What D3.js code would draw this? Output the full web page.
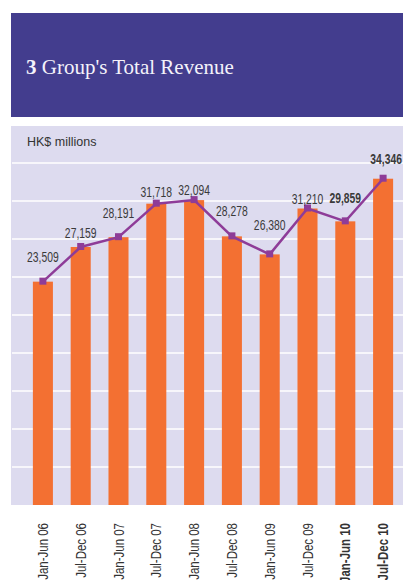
<!DOCTYPE html>
<html>
<head>
<meta charset="utf-8">
<script src="https://cdn.jsdelivr.net/npm/d3@7"></script>
<style>
  body { margin: 0; background: #fff; }
  svg { display: block; }
  .val { font-family: "Liberation Sans", Arial, sans-serif; font-size: 14px; fill: #3a3a3a; }
  .xlab { font-family: "Liberation Sans", Arial, sans-serif; font-size: 14px; fill: #333; }
</style>
</head>
<body>
<svg id="chart" width="403" height="580"></svg>
<script>
// half-year periods and revenue (HK$ millions)
var periods = ["Jan-Jun 06", "Jul-Dec 06", "Jan-Jun 07", "Jul-Dec 07", "Jan-Jun 08",
               "Jul-Dec 08", "Jan-Jun 09", "Jul-Dec 09", "Jan-Jun 10", "Jul-Dec 10"];
var revenue = [23509, 27159, 28191, 31718, 32094, 28278, 26380, 31210, 29859, 34346];
var boldPeriods = ["Jan-Jun 10", "Jul-Dec 10"];
var gridTicks = [4000, 8000, 12000, 16000, 20000, 24000, 28000, 32000, 36000];

var svg = d3.select("#chart");
var fmt = d3.format(",");
var squeeze = 0.74;   // fake a condensed face

// title box
svg.append("rect")
    .attr("x", 11).attr("y", 13)
    .attr("width", 392).attr("height", 104)
    .attr("fill", "#433d8e");

var title = svg.append("text")
    .attr("x", 26).attr("y", 74)
    .attr("fill", "#f4f2fa")
    .style("font-family", "'Liberation Serif', 'DejaVu Serif', serif")
    .style("font-size", "21px");
title.append("tspan").attr("font-weight", "bold").text("3");
title.append("tspan").text(" Group's Total Revenue");

// chart panel
svg.append("rect")
    .attr("x", 11).attr("y", 126)
    .attr("width", 392).attr("height", 379)
    .attr("fill", "#dddbef");

svg.append("text")
    .attr("x", 27).attr("y", 146)
    .attr("fill", "#333")
    .style("font-family", "'Liberation Sans', sans-serif")
    .style("font-size", "12.5px")
    .text("HK$ millions");

var x = d3.scaleBand()
    .domain(periods)
    .range([24, 402])
    .paddingInner(0.47)
    .paddingOuter(0.235);

var y = d3.scaleLinear()
    .domain([0, 36000])
    .range([505, 163]);

// gridlines
svg.append("g")
    .selectAll("line")
    .data(gridTicks)
    .enter().append("line")
    .attr("x1", 12).attr("x2", 403)
    .attr("y1", function (d) { return y(d); })
    .attr("y2", function (d) { return y(d); })
    .attr("stroke", "#fff")
    .attr("stroke-width", 1.5);

// bars
svg.append("g")
    .selectAll("rect")
    .data(revenue)
    .enter().append("rect")
    .attr("x", function (d, i) { return x(periods[i]); })
    .attr("y", function (d) { return y(d); })
    .attr("width", x.bandwidth())
    .attr("height", function (d) { return y(0) - y(d); })
    .attr("fill", "#f37032");

function cx(i) { return x(periods[i]) + x.bandwidth() / 2; }

// line
var line = d3.line()
    .x(function (d, i) { return cx(i); })
    .y(function (d) { return y(d); });

svg.append("path")
    .datum(revenue)
    .attr("d", line)
    .attr("fill", "none")
    .attr("stroke", "#8e3c98")
    .attr("stroke-width", 2.5);

svg.append("g")
    .selectAll("rect")
    .data(revenue)
    .enter().append("rect")
    .attr("x", function (d, i) { return cx(i) - 3.5; })
    .attr("y", function (d) { return y(d) - 4; })
    .attr("width", 7).attr("height", 7)
    .attr("fill", "#8e3c98");

// y of the line at any x position
function lineY(px) {
    var n = revenue.length;
    if (px <= cx(0)) return y(revenue[0]);
    if (px >= cx(n - 1)) return y(revenue[n - 1]);
    for (var i = 0; i < n - 1; i++) {
        if (px >= cx(i) && px <= cx(i + 1)) {
            var t = (px - cx(i)) / (cx(i + 1) - cx(i));
            return y(revenue[i]) + t * (y(revenue[i + 1]) - y(revenue[i]));
        }
    }
}

function isBold(i) { return boldPeriods.indexOf(periods[i]) >= 0; }

// value labels, lifted clear of the line
svg.append("g")
    .selectAll("text")
    .data(revenue)
    .enter().append("text")
    .attr("class", "val")
    .attr("text-anchor", "middle")
    .attr("font-weight", function (d, i) { return isBold(i) ? "bold" : null; })
    .text(function (d) { return fmt(d); })
    .attr("transform", function (d, i) {
        var w = this.getComputedTextLength() * squeeze;
        var c = cx(i) + (i === revenue.length - 1 ? 3 : 0);
        var top = Math.min(y(d), lineY(c - w / 2), lineY(c + w / 2));
        if (isBold(i)) top = Math.min(top + 5, y(d) - 10);
        return "translate(" + c + "," + (top - 5) + ") scale(" + squeeze + ",1)";
    });

// x labels, rotated
svg.append("g")
    .selectAll("text")
    .data(periods)
    .enter().append("text")
    .attr("class", "xlab")
    .attr("text-anchor", "end")
    .attr("font-weight", function (d, i) { return isBold(i) ? "bold" : null; })
    .attr("transform", function (d) {
        return "translate(" + (x(d) + x.bandwidth() / 2 + 5) + ",523) rotate(-90) scale(0.82,1)";
    })
    .text(function (d) { return d; });
</script>
</body>
</html>
